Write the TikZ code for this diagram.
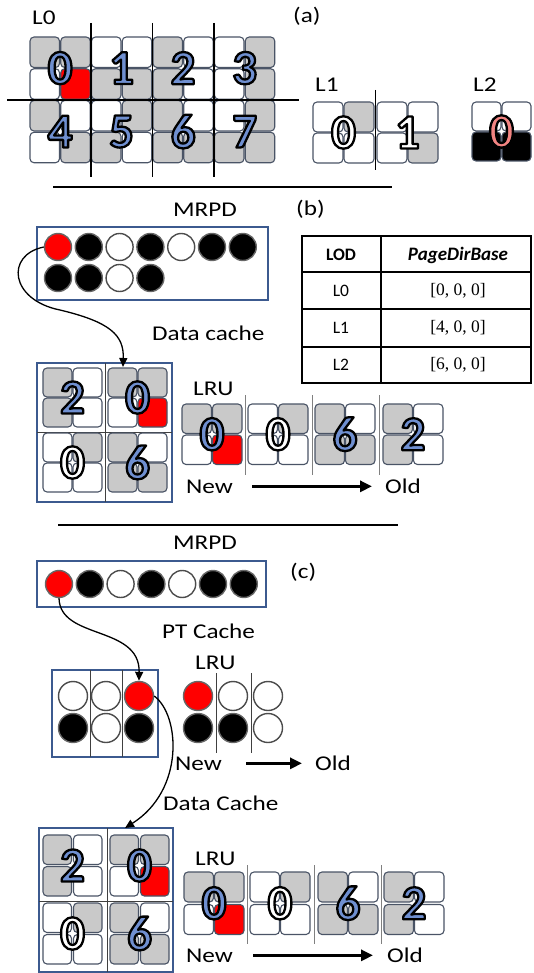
\documentclass[tikz,border=0pt]{standalone}
\usepackage[no-math]{fontspec}
\setmainfont{Carlito}
\newfontfamily\lblfont{Carlito}[FakeStretch=1.2]
\newfontfamily\tabserif{Liberation Serif}
\usetikzlibrary{arrows.meta,calc}
\definecolor{tg}{HTML}{C9C9C9}
\definecolor{tileedge}{HTML}{4A5466}
\definecolor{boxblue}{HTML}{3C5A8F}
\definecolor{numblue}{HTML}{6F8FD0}
\definecolor{numred}{HTML}{F28482}
\definecolor{tred}{HTML}{FF0000}
\tikzset{
  tilestyle/.style={draw=tileedge,line width=1.1pt,rounded corners=4pt},
  numstyle/.style={font=\bfseries\fontsize{49}{49}\selectfont,inner sep=0pt,anchor=center},
  lbl/.style={font=\lblfont\fontsize{21}{21}\selectfont,inner sep=0pt,anchor=base west},
  tbl/.style={font=\fontsize{17.5}{17.5}\selectfont,inner sep=0pt,anchor=center},
  ball/.style={circle,minimum size=27pt,inner sep=0pt,line width=1.4pt},
  bk/.style={ball,fill=black,draw=black!60},
  wh/.style={ball,fill=white,draw=black!70},
  rd/.style={ball,fill=tred,draw=black!60},
  cachebox/.style={draw=boxblue,line width=1.3pt},
  divline/.style={draw=black,line width=1.5pt},
  thindiv/.style={draw=black!75,line width=0.8pt},
  lrudiv/.style={draw=black!50,line width=0.9pt},
  carrow/.style={draw=black,line width=1.3pt,-{Triangle[length=9pt,width=8pt]}},
  bigarrow/.style={draw=black,line width=3pt,-{Triangle[length=12pt,width=11pt]}},
  tline/.style={draw=black,line width=1.2pt}
}
\newcommand\tile[3]{\draw[tilestyle,fill=#3] (#1,#2) rectangle ++(\tsx,\tsy);}
\newcommand\tblock[6]{\tile{#1}{#2}{#3}\tile{#1+\tpx}{#2}{#4}\tile{#1}{#2+\tpy}{#5}\tile{#1+\tpx}{#2+\tpy}{#6}}
\newcommand\outlined[1]{\special{pdf:literal direct 1 j 2.3 w 0 0 0 RG 2 Tr}#1\special{pdf:literal direct 0 Tr}}
\newcommand\bignum[5]{%
  \node[numstyle,text=#4] (#1) at (#2,#3) {\outlined{#5}};}
\begin{document}
\begin{tikzpicture}[x=1pt,y=-1pt]
\useasboundingbox (0,0) rectangle (533,973);
% ---------------- (a) ----------------
\node[lbl] (l0) at (32,25) {L0};
\node[lbl] (pa) at (293,23) {(a)};
\node[lbl] (l1) at (315,92) {L1};
\node[lbl] (l2) at (473,92) {L2};
\def\tpx{30.75}\def\tpy{31.75}\def\tsx{29.5}\def\tsy{30.5}
\tblock{30}{37}{tg}{tg}{white}{tred}
\tblock{91.5}{37}{white}{white}{tg}{tg}
\tblock{153}{37}{tg}{white}{tg}{white}
\tblock{214.5}{37}{white}{tg}{white}{tg}
\tblock{30}{100.5}{tg}{white}{white}{tg}
\tblock{91.5}{100.5}{white}{tg}{tg}{white}
\tblock{153}{100.5}{tg}{white}{tg}{tg}
\tblock{214.5}{100.5}{white}{tg}{tg}{tg}
\draw[divline] (90.9,23) -- (90.9,177);
\draw[divline] (152.4,23) -- (152.4,177);
\draw[divline] (213.9,23) -- (213.9,177);
\draw[divline] (7,99.9) -- (299,99.9);
\bignum{d0}{60.1}{68.1}{numblue}{0}
\bignum{d1}{121.6}{68.1}{numblue}{1}
\bignum{d2}{183.1}{68.1}{numblue}{2}
\bignum{d3}{244.6}{68.1}{numblue}{3}
\bignum{d4}{60.1}{131.6}{numblue}{4}
\bignum{d5}{121.6}{131.6}{numblue}{5}
\bignum{d6}{183.1}{131.6}{numblue}{6}
\bignum{d7}{244.6}{131.6}{numblue}{7}
\def\tpx{31}\def\tpy{31}\def\tsx{30}\def\tsy{30}
\tblock{313}{102}{white}{tg}{white}{white}
\tblock{377}{102}{white}{white}{white}{tg}
\draw[divline] (375.5,90) -- (375.5,170);
\bignum{e0}{343.5}{132.5}{white}{0}
\bignum{e1}{407.5}{132.5}{white}{1}
\def\tpx{30}\def\tpy{30}\def\tsx{29}\def\tsy{29}
\tblock{472}{102}{white}{white}{black}{black}
\bignum{f0}{501.5}{131.5}{numred}{0}
\draw[line width=2pt] (53,187) -- (392,187);
% ---------------- (b) ----------------
\node[lbl] (pb) at (296,216) {(b)};
\node[lbl] (mrpdb) at (173,217) {MRPD};
\draw[cachebox] (37,227) rectangle (268,300);
\node[rd] (mb1) at (58,247) {};
\node[bk] (mb2) at (88.8,247) {};
\node[wh] (mb3) at (119.6,247) {};
\node[bk] (mb4) at (150.4,247) {};
\node[wh] (mb5) at (181.2,247) {};
\node[bk] (mb6) at (212,247) {};
\node[bk] (mb7) at (242.8,247) {};
\node[bk] (mb8) at (58,278) {};
\node[bk] (mb9) at (88.8,278) {};
\node[wh] (mb10) at (119.6,278) {};
\node[bk] (mb11) at (150.4,278) {};
% table
\draw[tline] (302,236) rectangle (531,383);
\draw[tline] (302,272) -- (531,272);
\draw[tline] (302,309) -- (531,309);
\draw[tline] (302,347) -- (531,347);
\draw[tline] (381,236) -- (381,383);
\node[tbl,font=\bfseries\fontsize{17.5}{17.5}\selectfont] (tlod) at (341,255) {LOD};
\node[tbl,font=\bfseries\itshape\fontsize{19}{19}\selectfont] (tpdb) at (458,255) {PageDirBase};
\node[tbl] (tl0) at (341,291) {L0};
\node[tbl] (tl1) at (341,328) {L1};
\node[tbl] (tl2) at (341,365) {L2};
\node[tbl,font=\tabserif\fontsize{17.5}{17.5}\selectfont] (tv0) at (458,291) {[0, 0, 0]};
\node[tbl,font=\tabserif\fontsize{17.5}{17.5}\selectfont] (tv1) at (458,328) {[4, 0, 0]};
\node[tbl,font=\tabserif\fontsize{17.5}{17.5}\selectfont] (tv2) at (458,365) {[6, 0, 0]};
\node[lbl] (dcl) at (152,340) {Data cache};
% data cache grid (b)
\draw[cachebox] (37,363) rectangle (172,502);
\draw[thindiv] (105,363) -- (105,502);
\draw[thindiv] (37,432) -- (172,432);
\def\tpx{30}\def\tpy{30}\def\tsx{29}\def\tsy{29}
\tblock{43}{368}{tg}{white}{tg}{white}
\tblock{108}{368}{tg}{tg}{white}{tred}
\tblock{43}{433}{white}{tg}{white}{white}
\tblock{108}{433}{tg}{white}{tg}{tg}
\bignum{g0}{72.5}{397.5}{numblue}{2}
\bignum{g1}{137.5}{397.5}{numblue}{0}
\bignum{g2}{72.5}{462.5}{white}{0}
\bignum{g3}{137.5}{462.5}{numblue}{6}
\coordinate (dcbin) at (123,367);
\draw[carrow] (mb1.west) .. controls (5,255) and (10,300) .. (60,310) .. controls (110,322) and (124,335) .. (dcbin);
% LRU (b)
\node[lbl] (lrub) at (193,395) {LRU};
\def\tpx{30.5}\def\tpy{31}\def\tsx{29.5}\def\tsy{29.5}
\tblock{182}{404}{tg}{tg}{white}{tred}
\tblock{248}{404}{white}{tg}{white}{white}
\tblock{315}{404}{tg}{white}{tg}{tg}
\tblock{383}{404}{tg}{white}{tg}{white}
\draw[lrudiv] (245,395) -- (245,475);
\draw[lrudiv] (312,395) -- (312,475);
\draw[lrudiv] (379,395) -- (379,475);
\bignum{h0}{212}{434.25}{numblue}{0}
\bignum{h1}{278}{434.25}{white}{0}
\bignum{h2}{345}{434.25}{numblue}{6}
\bignum{h3}{413}{434.25}{numblue}{2}
\node[lbl] (newb) at (186,493) {New};
\node[lbl] (oldb) at (385,493) {Old};
\coordinate (ab1) at ([xshift=19pt]newb.east);
\coordinate (ab2) at ([xshift=-13pt]oldb.west);
\draw[bigarrow] (ab1) -- (ab1 -| ab2);
\draw[line width=2pt] (58,525) -- (398,525);
% ---------------- (c) ----------------
\node[lbl] (mrpdc) at (173,549) {MRPD};
\node[lbl] (pc) at (290,578) {(c)};
\draw[cachebox] (37,561) rectangle (266,607);
\node[rd] (mc1) at (59,584) {};
\node[bk] (mc2) at (89.8,584) {};
\node[wh] (mc3) at (120.6,584) {};
\node[bk] (mc4) at (151.4,584) {};
\node[wh] (mc5) at (182.2,584) {};
\node[bk] (mc6) at (213,584) {};
\node[bk] (mc7) at (243.8,584) {};
\node[lbl] (ptl) at (162,638) {PT Cache};
% PT cache
\draw[cachebox] (52,670) rectangle (158,757);
\draw[thindiv] (90,670) -- (90,757);
\draw[thindiv] (122,670) -- (122,757);
\node[wh,minimum size=29pt] (pt1) at (73,696) {};
\node[wh,minimum size=29pt] (pt2) at (106,696) {};
\node[rd,minimum size=29pt] (pt3) at (139,696) {};
\node[bk,minimum size=29pt] (pt4) at (73,728) {};
\node[wh,minimum size=29pt] (pt5) at (106,728) {};
\node[bk,minimum size=29pt] (pt6) at (139,728) {};
\draw[carrow] (mc1.south) .. controls (60,640) and (140,625) .. (pt3.north);
% LRU (c)
\node[lbl] (lruc) at (195,669) {LRU};
\node[rd,minimum size=29pt] (lc1) at (198,696) {};
\node[wh,minimum size=29pt] (lc2) at (233,696) {};
\node[wh,minimum size=29pt] (lc3) at (268,696) {};
\node[bk,minimum size=29pt] (lc4) at (198,728) {};
\node[bk,minimum size=29pt] (lc5) at (233,728) {};
\node[wh,minimum size=29pt] (lc6) at (268,728) {};
\draw[thindiv] (216,673) -- (216,753);
\draw[thindiv] (251,673) -- (251,753);
\node[lbl] (newc) at (175,770) {New};
\node[lbl] (oldc) at (315,770) {Old};
\coordinate (ac1) at ([xshift=24pt]newc.east);
\coordinate (ac2) at ([xshift=-13pt]oldc.west);
\draw[bigarrow] (ac1) -- (ac1 -| ac2);
\node[lbl] (dccl) at (163,810) {Data Cache};
% data cache grid (c)
\draw[cachebox] (39,828) rectangle (173,972);
\draw[thindiv] (107,828) -- (107,972);
\draw[thindiv] (39,901) -- (173,901);
\def\tpx{30.5}\def\tpy{31.5}\def\tsx{28.5}\def\tsy{29.5}
\tblock{43}{835}{tg}{white}{tg}{white}
\tblock{110}{835}{tg}{tg}{white}{tred}
\tblock{43}{903}{white}{tg}{white}{white}
\tblock{110}{903}{tg}{white}{tg}{tg}
\bignum{k0}{72.5}{865.5}{numblue}{2}
\bignum{k1}{139.5}{865.5}{numblue}{0}
\bignum{k2}{72.5}{933.5}{white}{0}
\bignum{k3}{139.5}{933.5}{numblue}{6}
\coordinate (dccin) at (125,828);
\draw[carrow] (pt3.east) .. controls (180,715) and (185,790) .. (dccin);
% LRU (c) data
\node[lbl] (lruc2) at (195,865) {LRU};
\def\tpx{30.5}\def\tpy{32.5}\def\tsx{29.5}\def\tsy{30}
\tblock{184}{872}{tg}{tg}{white}{tred}
\tblock{250}{872}{white}{tg}{white}{white}
\tblock{318}{872}{tg}{white}{tg}{tg}
\tblock{384}{872}{tg}{white}{tg}{white}
\draw[lrudiv] (247,865) -- (247,944);
\draw[lrudiv] (314,865) -- (314,944);
\draw[lrudiv] (381,865) -- (381,944);
\bignum{m0}{214}{903.25}{numblue}{0}
\bignum{m1}{280}{903.25}{white}{0}
\bignum{m2}{348}{903.25}{numblue}{6}
\bignum{m3}{414}{903.25}{numblue}{2}
\node[lbl] (newc2) at (186,962) {New};
\node[lbl] (oldc2) at (387,962) {Old};
\coordinate (ad1) at ([xshift=20pt]newc2.east);
\coordinate (ad2) at ([xshift=-14pt]oldc2.west);
\draw[bigarrow] (ad1) -- (ad1 -| ad2);
\end{tikzpicture}
\end{document}
